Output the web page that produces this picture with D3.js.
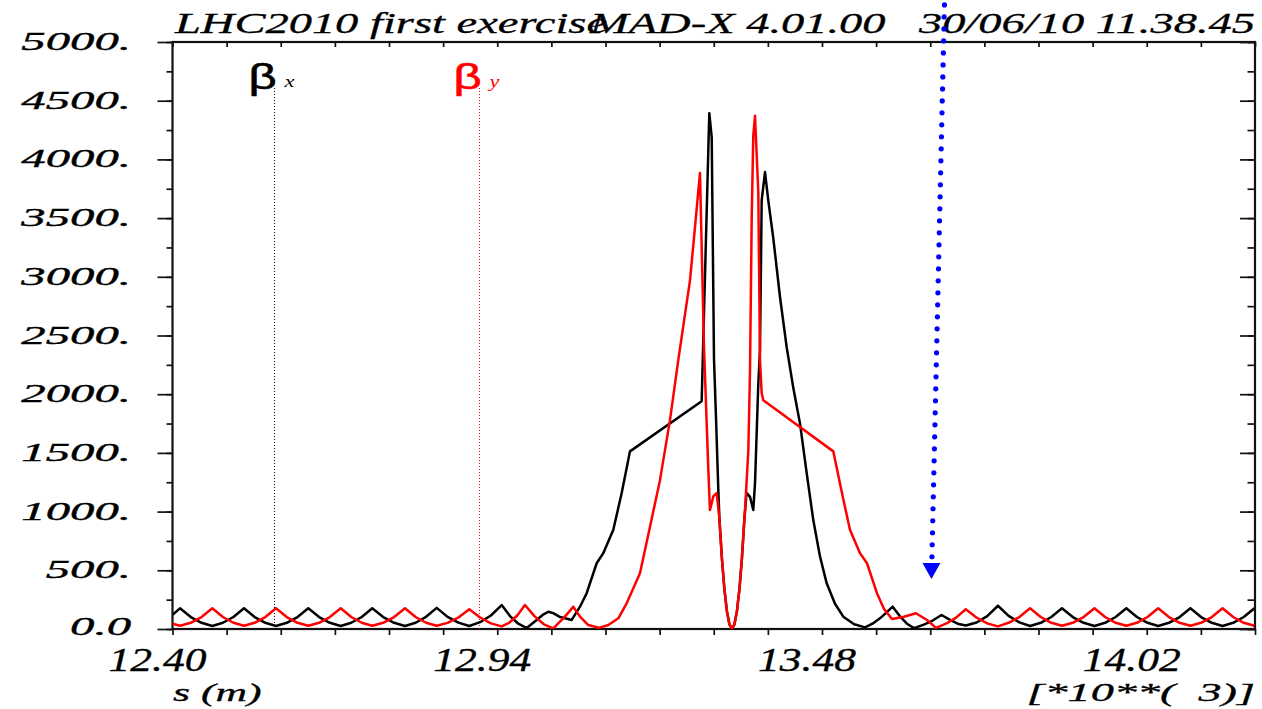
<!DOCTYPE html>
<html><head><meta charset="utf-8">
<script src="https://cdn.jsdelivr.net/npm/d3@7"></script>
<style>html,body{margin:0;padding:0;background:#fff;overflow:hidden}</style>
</head><body><svg id="c" width="1262" height="709"></svg>
<script>
// ---------- DATA ----------
const betaX = [
[12.400,122],
[12.4125,176],[12.4304,102],[12.4483,53],
[12.4662,26],[12.4838,53],[12.5013,102],
[12.5189,176],[12.5366,102],[12.5544,53],
[12.5721,26],[12.5900,53],[12.6079,102],
[12.6258,176],[12.6438,102],[12.6617,53],
[12.6797,26],[12.6972,53],[12.7147,102],
[12.7322,176],[12.7503,102],[12.7685,53],
[12.7866,26],[12.8042,53],[12.8217,104],
[12.8393,180],[12.8574,103],[12.8754,54],
[12.8935,26],[12.9115,58],[12.9294,115],
[12.9474,204],[12.9612,110],[12.9750,45],
[12.9889,8],[13.0056,77],[13.0170,125],[13.0249,147],[13.0330,135],[13.0432,105],[13.0638,77],
[13.0776,190],[13.0887,305],[13.1053,560],[13.1163,646],[13.1330,845],[13.1469,1158],[13.1607,1513],
[13.2799,1940],[13.2926,4394],[13.2966,4190],[13.3004,2300],[13.3037,1807],[13.3076,1183],
[13.3094,940],[13.3136,600],[13.3177,340],[13.3219,150],[13.3260,40],[13.3302,3],[13.3344,40],[13.3385,150],[13.3427,340],[13.3468,600],[13.3510,940],
[13.3545,1160],[13.3603,1126],[13.3657,1013],[13.3686,1240],[13.3741,2091],[13.3769,2375],[13.3797,3650],[13.3852,3892],
[13.3907,3650],[13.3990,3330],[13.4101,2830],[13.4213,2400],[13.4324,2050],[13.4434,1751],[13.4545,1330],[13.4655,928],[13.4766,620],[13.4878,389],[13.5016,215],[13.5154,105],[13.5335,40],[13.5515,14],[13.5640,45],[13.5764,91],
[13.5870,140],[13.5975,190],[13.6093,110],[13.6212,45],[13.6330,8],[13.6482,35],[13.6635,70],[13.6787,119],[13.6921,80],[13.7056,45],[13.7190,30],[13.7370,55],[13.7548,110],[13.7725,198],
[13.7903,112],[13.8082,56],[13.8260,26],[13.8437,53],[13.8613,102],[13.8790,176],[13.8970,102],[13.9150,53],[13.9330,26],[13.9507,53],[13.9683,102],[13.9860,176],[14.0037,102],[14.0213,53],[14.0390,26],[14.0568,53],[14.0747,102],[14.0925,176],[14.1103,102],[14.1282,53],[14.1460,26],[14.1637,53],[14.1813,102],[14.1990,176]
];
const betaY = [
[12.400,45],[12.4125,28],[12.4304,53],[12.4483,102],
[12.4662,176],[12.4838,102],[12.5013,53],
[12.5189,28],[12.5366,53],[12.5544,102],
[12.5721,176],[12.5900,102],[12.6079,53],
[12.6258,28],[12.6438,53],[12.6617,102],
[12.6797,176],[12.6972,102],[12.7147,53],
[12.7322,28],[12.7503,53],[12.7685,102],
[12.7866,176],[12.8042,102],[12.8217,53],
[12.8393,28],[12.8574,52],[12.8754,98],
[12.8935,168],[12.9115,98],[12.9294,48],
[12.9474,22],[12.9603,55],[12.9732,115],
[12.9861,204],[13.0018,110],[13.0175,40],
[13.0332,6],[13.0498,90],[13.0600,150],[13.0664,190],
[13.0776,105],[13.0914,34],[13.1090,10],[13.1247,34],[13.1413,91],[13.1552,219],[13.1773,474],[13.1940,871],[13.2106,1268],[13.2272,1779],[13.2410,2290],[13.2605,2970],[13.2688,3424],[13.2771,3884],
[13.2838,2400],[13.2910,1353],[13.2937,1013],[13.2992,1129],[13.3049,1158],
[13.3094,940],[13.3136,600],[13.3177,340],[13.3219,150],[13.3260,40],[13.3302,3],[13.3344,40],[13.3385,150],[13.3427,340],[13.3468,600],[13.3510,940],
[13.3520,1013],[13.3575,1520],[13.3603,2200],[13.3631,3500],[13.3657,4200],[13.3686,4371],[13.3741,3721],[13.3769,2290],[13.3797,2009],[13.3824,1949],
[13.4988,1513],[13.5132,1158],[13.5265,845],[13.5432,646],[13.5548,560],[13.5714,305],[13.5831,170],[13.5964,85],[13.6163,105],[13.6363,134],[13.6546,77],[13.6696,10],
[13.6861,45],[13.7025,95],[13.7190,168],[13.7368,98],[13.7547,48],[13.7725,22],[13.7903,53],[13.8082,102],[13.8260,176],[13.8437,102],[13.8613,53],[13.8790,28],[13.8970,53],[13.9150,102],[13.9330,176],[13.9507,102],[13.9683,53],[13.9860,28],[14.0037,53],[14.0213,102],[14.0390,176],[14.0568,102],[14.0747,53],[14.0925,28],[14.1103,53],[14.1282,102],[14.1460,176],[14.1637,102],[14.1813,53],[14.1990,28]
];
const yTickValues = [0,500,1000,1500,2000,2500,3000,3500,4000,4500,5000];
const yTickLabels = ["0.0","500.","1000.","1500.","2000.","2500.","3000.","3500.","4000.","4500.","5000."];
const xTickValues = [12.40,12.94,13.48,14.02];
const xTickLabels = ["12.40","12.94","13.48","14.02"];
const titleLeft = "LHC2010 first exercise";
const titleMid = "MAD-X 4.01.00";
const titleRight = "30/06/10 11.38.45";
const xAxisTitle = "s (m)";
const xAxisMult = "[*10**(\u00A0\u00A03)]";
const legendItems = [{sym:"\u03B2", sub:"x", color:"#000"}, {sym:"\u03B2", sub:"y", color:"#ff0000"}];
const markerTop = [13.6836, 5316];
const markerTip = [13.6620, 426];

// ---------- CHART ----------
const svg = d3.select("#c");
svg.append("rect").attr("width",1262).attr("height",709).attr("fill","#fff");
const PL = 172.5, PR = 1255, PT = 42, PB = 629;
const x = d3.scaleLinear().domain([12.40, 14.20]).range([PL, PR]);
const y = d3.scaleLinear().domain([0, 5000]).range([PB, PT]);

const serif = "'Liberation Serif','Times New Roman',serif";

svg.append("clipPath").attr("id","plotclip").append("rect")
  .attr("x",PL).attr("y",PT).attr("width",PR-PL).attr("height",PB-PT);

const xMinor = d3.range(0, 21).map(i => +(12.40 + i*0.09).toFixed(2));
const yMinor = d3.range(0, 5001, 250);

function styleAxis(g){
  g.select(".domain").remove();
  g.selectAll(".tick line").attr("stroke","#111").attr("stroke-width",1.7);
  g.selectAll(".tick text").remove();
}
svg.append("g").attr("transform",`translate(${PL},0)`).call(d3.axisLeft(y).tickValues(yMinor).tickSize(6)).call(styleAxis);
svg.append("g").attr("transform",`translate(${PL},0)`).call(d3.axisLeft(y).tickValues(yTickValues).tickSize(15)).call(styleAxis);
svg.append("g").attr("transform",`translate(${PR},0)`).call(d3.axisRight(y).tickValues(yMinor).tickSize(-7.5)).call(styleAxis);
svg.append("g").attr("transform",`translate(${PR},0)`).call(d3.axisRight(y).tickValues(yTickValues).tickSize(-15)).call(styleAxis);
svg.append("g").attr("transform",`translate(0,${PB})`).call(d3.axisBottom(x).tickValues(xMinor).tickSize(6)).call(styleAxis);
svg.append("g").attr("transform",`translate(0,${PT})`).call(d3.axisBottom(x).tickValues(xMinor).tickSize(5)).call(styleAxis);

// frame
svg.append("rect").attr("x",PL).attr("y",PT).attr("width",PR-PL).attr("height",PB-PT)
  .attr("fill","none").attr("stroke","#111").attr("stroke-width",2.2);

// legend
legendItems.forEach((it,i)=>{
  const lx = PL + 76 + i*205;
  svg.append("line").attr("x1",lx+26).attr("x2",lx+26).attr("y1",88).attr("y2",PB)
    .attr("stroke",it.color).attr("stroke-width",1).attr("stroke-dasharray","1,2");
  svg.append("text").attr("transform",`translate(${lx},89) scale(1.4,1)`)
    .style("font-family","'Liberation Sans',Arial,sans-serif").style("font-size","35px")
    .attr("fill",it.color).attr("stroke",it.color).attr("stroke-width",0.6).text(it.sym);
  svg.append("text").attr("transform",`translate(${lx+36},87) scale(1.4,1)`)
    .style("font-family",serif).style("font-style","italic").style("font-size","16px")
    .attr("fill",it.color).text(it.sub);
});

// curves
const line = d3.line().x(d=>x(d[0])).y(d=>y(d[1])).curve(d3.curveLinear);
const cg = svg.append("g").attr("clip-path","url(#plotclip)");
cg.append("path").datum(betaX).attr("d",line).attr("fill","none").attr("stroke","#000").attr("stroke-width",2.5).attr("stroke-linejoin","round");
cg.append("path").datum(betaY).attr("d",line).attr("fill","none").attr("stroke","#ff0000").attr("stroke-width",2.5).attr("stroke-linejoin","round");

// y labels
svg.selectAll(".ylab").data(yTickValues).join("text").attr("class","ylab")
  .attr("transform",d=>`translate(131,${y(d)+(d===0?6:8)}) scale(1.95,1)`)
  .attr("text-anchor","end").style("font-family",serif).style("font-style","italic").style("font-size","25px")
  .attr("fill","#000").attr("stroke","#000").attr("stroke-width",0.35).text((d,i)=>yTickLabels[i]);
// x labels
svg.selectAll(".xlab").data(xTickValues).join("text").attr("class","xlab")
  .attr("transform",d=>`translate(${x(d)-15},671) scale(1.28,1)`)
  .attr("text-anchor","middle").style("font-family",serif).style("font-style","italic").style("font-size","34px")
  .attr("fill","#000").attr("stroke","#000").attr("stroke-width",0.35).text((d,i)=>xTickLabels[i]);

// titles
function ttext(str, tx, ty, size, sx, anchor){
  svg.append("text").attr("transform",`translate(${tx},${ty}) scale(${sx},1)`)
    .attr("text-anchor",anchor).style("font-family",serif).style("font-style","italic")
    .style("font-size",size+"px").attr("fill","#000").attr("stroke","#000").attr("stroke-width",0.3)
    .text(str);
}
ttext(titleLeft, 175, 33, 30, 1.55, "start");
ttext(titleMid, 590, 33, 30, 1.55, "start");
ttext(titleRight, 1255, 33, 30, 1.55, "end");
ttext(xAxisTitle, 173, 701, 25, 1.75, "start");
ttext(xAxisMult, 1255, 701, 25, 1.85, "end");

// blue dotted marker
const mx1 = x(markerTop[0]), my1 = y(markerTop[1]), mx2 = x(markerTip[0]), my2 = y(markerTip[1]);
const len = Math.hypot(mx2-mx1, my2-my1);
const ux = (mx2-mx1)/len, uy = (my2-my1)/len;
svg.append("line").attr("x1",mx1).attr("y1",my1).attr("x2",mx2-ux*22).attr("y2",my2-uy*22)
  .attr("stroke","#0000ff").attr("stroke-width",5.2).attr("stroke-linecap","round").attr("stroke-dasharray","0,12");
svg.append("path").attr("d",`M${mx2},${my2} L${mx2-9},${my2-16} L${mx2+9},${my2-16} Z`).attr("fill","#0000ff");
</script>
</body></html>
